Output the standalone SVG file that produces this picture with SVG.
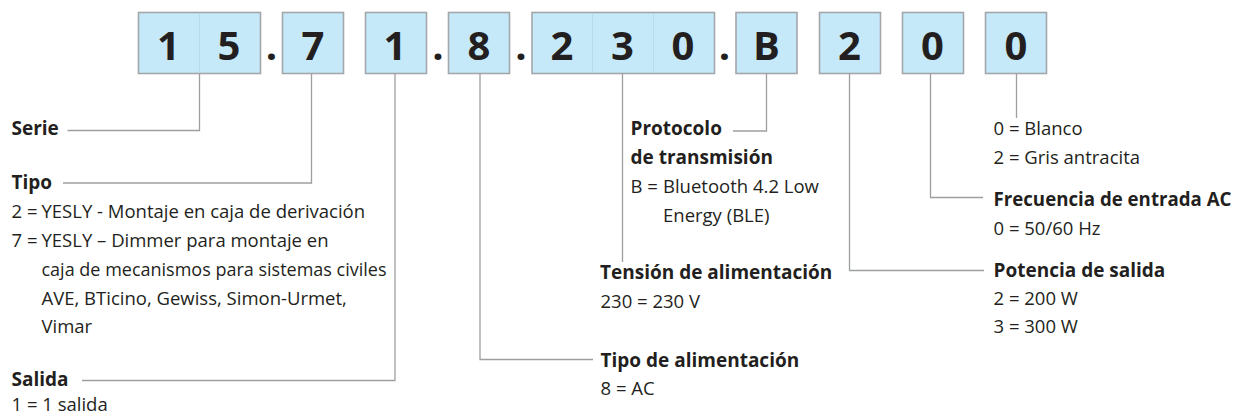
<svg xmlns="http://www.w3.org/2000/svg" width="1235" height="414" viewBox="0 0 1235 414">
<style>
.box{fill:#c6e9f9;stroke:#a4a7aa;stroke-width:1.6}
.div{stroke:#b9dbea;stroke-width:1}
.dig{font-family:"Open Sans","Liberation Sans",sans-serif;font-weight:700;font-size:40px;fill:#231f20;text-anchor:middle}
.conn{fill:none;stroke:#9c9ea1;stroke-width:1.3}
.h{font-family:"Open Sans","Liberation Sans",sans-serif;font-weight:700;font-size:19px;fill:#231f20}
.t{font-family:"Open Sans","Liberation Sans",sans-serif;font-size:18.5px;fill:#231f20}
</style>
<rect width="1235" height="414" fill="#ffffff"/>
<g id="code">
  <g id="box-serie"><rect class="box" x="138.5" y="12.5" width="122" height="61"/><line class="div" x1="199.5" y1="13.5" x2="199.5" y2="72.5"/><text class="dig" x="168.5" y="60">1</text><text class="dig" x="229" y="60">5</text></g>
  <text class="dig" x="271.5" y="60">.</text>
  <g id="box-tipo"><rect class="box" x="282.5" y="12.5" width="61" height="61"/><text class="dig" x="313" y="60">7</text></g>
  <g id="box-salida"><rect class="box" x="365.5" y="12.5" width="61" height="61"/><text class="dig" x="395" y="60">1</text></g>
  <text class="dig" x="438" y="60">.</text>
  <g id="box-alim"><rect class="box" x="448.5" y="12.5" width="61" height="61"/><text class="dig" x="479" y="60">8</text></g>
  <text class="dig" x="521" y="60">.</text>
  <g id="box-tension"><rect class="box" x="532" y="12.5" width="182.5" height="61"/><line class="div" x1="592.5" y1="13.5" x2="592.5" y2="72.5"/><line class="div" x1="653.5" y1="13.5" x2="653.5" y2="72.5"/><text class="dig" x="562" y="60">2</text><text class="dig" x="622.5" y="60">3</text><text class="dig" x="683" y="60">0</text></g>
  <text class="dig" x="724.5" y="60">.</text>
  <g id="box-protocolo"><rect class="box" x="736" y="12.5" width="61" height="61"/><text class="dig" x="766.5" y="60">B</text></g>
  <g id="box-potencia"><rect class="box" x="819.5" y="12.5" width="61" height="61"/><text class="dig" x="849.5" y="60">2</text></g>
  <g id="box-frecuencia"><rect class="box" x="902.5" y="12.5" width="61" height="61"/><text class="dig" x="932.5" y="60">0</text></g>
  <g id="box-color"><rect class="box" x="985.5" y="12.5" width="61" height="61"/><text class="dig" x="1016" y="60">0</text></g>
</g>
<g id="connectors">
  <polyline class="conn" points="199.5,73.5 199.5,130.5 67.5,130.5"/>
  <polyline class="conn" points="311.5,73.5 311.5,183 63,183"/>
  <polyline class="conn" points="395,73.5 395,380.5 82,380.5"/>
  <polyline class="conn" points="480,73.5 480,359.5 593,359.5"/>
  <polyline class="conn" points="622.5,73.5 622.5,262"/>
  <polyline class="conn" points="766.5,73.5 766.5,131 733,131"/>
  <polyline class="conn" points="849.5,73.5 849.5,270.5 984,270.5"/>
  <polyline class="conn" points="930.5,73.5 930.5,197.5 983,197.5"/>
  <polyline class="conn" points="1016.5,73.5 1016.5,118"/>
</g>
<g id="label-serie"><text class="h" x="11.5" y="134.5">Serie</text></g>
<g id="label-tipo">
  <text class="h" x="11.5" y="189">Tipo</text>
  <text class="t" x="11.5" y="218">2 = <tspan x="41.5">YESLY - Montaje en caja de derivación</tspan></text>
  <text class="t" x="11.5" y="247">7 = <tspan x="41.5">YESLY – Dimmer para montaje en</tspan></text>
  <text class="t" x="41.5" y="275.5" textLength="345" lengthAdjust="spacingAndGlyphs">caja de mecanismos para sistemas civiles</text>
  <text class="t" x="41.5" y="304.5">AVE, BTicino, Gewiss, Simon-Urmet,</text>
  <text class="t" x="41.5" y="333">Vimar</text>
</g>
<g id="label-salida">
  <text class="h" x="11.5" y="386">Salida</text>
  <text class="t" x="11.5" y="410.5">1 = 1 salida</text>
</g>
<g id="label-protocolo">
  <text class="h" x="630.5" y="135">Protocolo</text>
  <text class="h" x="630.5" y="164">de transmisión</text>
  <text class="t" x="630.5" y="193">B = <tspan x="663">Bluetooth 4.2 Low</tspan></text>
  <text class="t" x="663" y="221.5">Energy (BLE)</text>
</g>
<g id="label-tension">
  <text class="h" x="600" y="279">Tensión de alimentación</text>
  <text class="t" x="600.5" y="308">230 = 230 V</text>
</g>
<g id="label-alimentacion">
  <text class="h" x="600.5" y="366.5">Tipo de alimentación</text>
  <text class="t" x="600.5" y="395">8 = AC</text>
</g>
<g id="label-color">
  <text class="t" x="993.5" y="135">0 = Blanco</text>
  <text class="t" x="993.5" y="163.5">2 = Gris antracita</text>
</g>
<g id="label-frecuencia">
  <text class="h" x="993.5" y="205.5" textLength="238" lengthAdjust="spacingAndGlyphs">Frecuencia de entrada AC</text>
  <text class="t" x="993.5" y="234.5">0 = 50/60 Hz</text>
</g>
<g id="label-potencia">
  <text class="h" x="993.5" y="276.5">Potencia de salida</text>
  <text class="t" x="993.5" y="305">2 = 200 W</text>
  <text class="t" x="993.5" y="333">3 = 300 W</text>
</g>
</svg>
